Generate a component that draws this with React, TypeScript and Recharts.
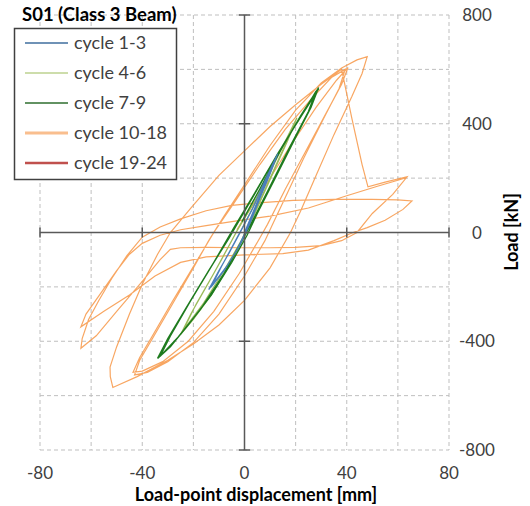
import { LineChart, Line, XAxis, YAxis, CartesianGrid, ReferenceLine } from 'recharts'

type Pt = [number, number]

// axis ticks and grid steps
const xTicks = [-80, -40, 0, 40, 80]
const yTicks = [-800, -400, 0, 400, 800]
const xGrid = [-80, -60, -40, -20, 0, 20, 40, 60, 80]
const yGrid = [-800, -600, -400, -200, 0, 200, 400, 600, 800]

// displacement [mm], load [kN]
const cycles1to3: Pt[] = [
  [0, 0], [4, 90], [8, 180], [13, 290], [10, 215], [6, 125], [2, 30], [-2, -50], [-7, -125], [-14, -210],
  [-10, -140], [-6, -75], [-2, -5], [3, 85], [8, 190], [12.5, 280], [9, 200], [5, 110], [1, 15], [-3, -65],
  [-8, -140], [-13, -200], [-9, -125], [-5, -55], [-1, 15],
]

const cycles4to6: Pt[] = [
  [-1, 15], [6, 140], [13, 280], [20.5, 422], [17, 340], [11, 215], [5, 90], [0, -15], [-6, -120], [-13, -230],
  [-20, -320], [-25, -375], [-21, -300], [-15, -200], [-9, -100], [-3, 5], [4, 115], [12, 265], [20, 410],
  [16, 325], [10, 200], [4, 75], [-1, -25], [-8, -140], [-16, -260], [-24, -360], [-19, -265], [-12, -150],
  [-5, -30], [-1, 40],
]

const cycles7to9: Pt[] = [
  [-1, 40], [6, 160], [14, 300], [22, 430], [29, 533], [26, 460], [20, 350], [12, 200], [5, 70], [1, -10],
  [-5, -110], [-13, -230], [-22, -340], [-29, -420], [-34, -463], [-30, -390], [-23, -280], [-14, -140],
  [-6, -20], [-2, 45], [6, 175], [15, 320], [23, 440], [28, 520], [25, 445], [18, 320], [10, 170], [3, 40],
  [-1, -30], [-8, -150], [-17, -280], [-26, -385], [-33, -455], [-29, -380], [-21, -250], [-12, -110],
  [-4, 20], [4, 145], [13, 290], [22, 425], [29, 528],
]

const cycles10to18: Pt[] = [
  [-3, 10], [8, 170], [18, 320], [28, 460], [36, 560], [40.5, 607],
  [38, 545], [32, 440], [24, 300], [16, 160], [9, 30], [6, -20], [-2, -150], [-12, -290], [-22, -400], [-32, -475], [-40, -510], [-43.6, -514],
  [-41, -460], [-36, -380], [-28, -250], [-19, -110], [-12, 0], [-4, 110], [6, 250], [16, 380], [26, 490], [34, 570], [39.4, 600],
  [37, 530], [31, 420], [23, 270], [16, 130], [11, 30], [8, -30], [0, -160], [-10, -300], [-20, -405], [-30, -475], [-38, -515], [-43, -524],
  [-41, -470], [-36, -390], [-28, -260], [-20, -130], [-14, -30], [-8, 60], [0, 175], [10, 320], [20, 450], [30, 550], [38, 605], [44, 635], [48, 647],
  [46, 585], [42, 500], [35, 360], [28, 210], [22, 80], [18, 0], [10, -130], [0, -250], [-10, -340], [-20, -410], [-30, -470], [-42, -530], [-51.5, -570],
  [-52.5, -530], [-52.6, -495], [-50, -420], [-45, -300], [-40, -190], [-34, -80], [-29, 0], [-21, 90], [-10, 210], [0, 300], [10, 390], [20, 470], [30, 545], [38, 600],
  [42, 420], [46, 250], [48.3, 168], [55, 185], [63.6, 205],
  [58, 140], [50, 70], [44, 0], [38, -30], [30, -48], [20, -55], [10, -56], [0, -56], [-15, -55], [-25, -56], [-29, -62], [-33, -100], [-40, -180], [-50, -290], [-58, -380], [-64, -426],
  [-63.5, -390], [-61, -320], [-57, -250], [-52, -170], [-46, -85], [-40, -17], [-33, 20], [-25, 50], [-15, 80], [-5, 100], [7, 110], [19, 118], [35, 122], [50, 122], [60, 120], [65.5, 116],
  [62, 85], [55, 45], [48, 18], [42.5, 0], [35, -30], [25, -65], [15, -78], [0, -82], [-15, -90], [-25, -110], [-35, -160], [-45, -230], [-55, -290], [-64, -347],
  [-62, -300], [-56, -220], [-50, -140], [-45, -80], [-40, -40], [-33, -10], [-25, 10], [-15, 25], [-5, 40], [10, 60], [25, 90], [40, 135], [52, 170], [60, 192], [63.6, 203],
]

// not visible in the plot, only in the legend
const cycles19to24: Pt[] = []

const toRows = (pts: Pt[]) => pts.map(([x, y]) => ({ x, y }))

const series = [
  { name: 'cycle 1-3', pts: cycles1to3, color: '#4A7EBB', width: 1.2, legendWidth: 1.5, legendColor: '#3F6E9E' },
  { name: 'cycle 4-6', pts: cycles4to6, color: '#9BBB59', width: 1.2, legendWidth: 1.2, legendColor: '#9BBB59' },
  { name: 'cycle 7-9', pts: cycles7to9, color: '#1E7B1E', width: 1.4, legendWidth: 1.5, legendColor: '#2E6E2E' },
  { name: 'cycle 10-18', pts: cycles10to18, color: '#F79646', width: 1.2, legendWidth: 3, legendColor: '#F9BE8E' },
  { name: 'cycle 19-24', pts: cycles19to24, color: '#C0504D', width: 1.2, legendWidth: 2.5, legendColor: '#C0504D' },
]

// drawing order: orange underneath, blue on top
const drawOrder = [3, 4, 1, 2, 0]

const font = 'Lato, "Open Sans", sans-serif'
const axisColor = '#595959'

const XTick = ({ x, y, payload }: any) => (
  <text x={x} y={y + 29} textAnchor="middle" fontFamily={font} fontSize={17} fill="#404040">
    {payload.value}
  </text>
)

const YTick = ({ x, y, payload }: any) => (
  <text x={x + 28} y={y + 6} textAnchor="middle" fontFamily={font} fontSize={17} fill="#404040">
    {payload.value}
  </text>
)

export default function App() {
  return (
    <div style={{ position: 'absolute', left: 0, top: 0, width: 530, height: 506, background: '#fff' }}>
      <LineChart width={530} height={506} margin={{ top: 15, right: 41, bottom: 26, left: 40 }}>
        <CartesianGrid
          stroke="#BFBFBF"
          strokeDasharray="4 3"
          verticalValues={xGrid}
          horizontalValues={yGrid}
        />
        <XAxis
          type="number"
          dataKey="x"
          domain={[-80, 80]}
          ticks={xTicks}
          axisLine={false}
          tickLine={false}
          tickSize={0}
          tickMargin={0}
          height={30}
          tick={<XTick />}
          allowDataOverflow
        />
        <YAxis
          type="number"
          dataKey="y"
          orientation="right"
          domain={[-800, 800]}
          ticks={yTicks}
          axisLine={false}
          tickLine={false}
          tickSize={0}
          tickMargin={0}
          width={40}
          tick={<YTick />}
          allowDataOverflow
        />
        {drawOrder.map((i) => {
          const s = series[i]
          return (
            <Line
              key={s.name}
              name={s.name}
              data={toRows(s.pts)}
              dataKey="y"
              type="linear"
              stroke={s.color}
              strokeWidth={s.width}
              strokeOpacity={i === 3 ? 0.85 : 1}
              dot={false}
              activeDot={false}
              isAnimationActive={false}
            />
          )
        })}
        <ReferenceLine x={0} stroke={axisColor} strokeWidth={1.5} />
        <ReferenceLine y={0} stroke={axisColor} strokeWidth={1.5} />
        {xTicks.filter((t) => t !== 0).map((t) => (
          <ReferenceLine
            key={'xt' + t}
            segment={[{ x: t, y: -18 }, { x: t, y: 18 }]}
            stroke={axisColor}
            strokeWidth={1.5}
          />
        ))}
        {yTicks.filter((t) => t !== 0).map((t) => (
          <ReferenceLine
            key={'yt' + t}
            segment={[{ x: -2.2, y: t }, { x: 2.2, y: t }]}
            stroke={axisColor}
            strokeWidth={1.5}
          />
        ))}
      </LineChart>
      <svg
        width={530}
        height={506}
        style={{ position: 'absolute', left: 0, top: 0, pointerEvents: 'none' }}
      >
        <text x={22} y={21} fontFamily={font} fontSize={18.5} fontWeight="bold" fill="#000">
          S01 (Class 3 Beam)
        </text>
        <rect x={14.5} y={28.5} width={162} height={151} fill="#fff" stroke="#404040" strokeWidth={1.5} />
        {series.map((s, i) => (
          <g key={s.name}>
            <line x1={25} x2={68} y1={43 + i * 30} y2={43 + i * 30} stroke={s.legendColor} strokeWidth={s.legendWidth} />
            <text x={74} y={49 + i * 30} fontFamily={font} fontSize={18} fill="#404040">
              {s.name}
            </text>
          </g>
        ))}
        <text x={256} y={501} textAnchor="middle" fontFamily={font} fontSize={18} fontWeight="bold" fill="#000">
          Load-point displacement [mm]
        </text>
        <text
          x={0}
          y={0}
          transform="translate(518 232) rotate(-90)"
          textAnchor="middle"
          fontFamily={font}
          fontSize={18}
          fontWeight="bold"
          fill="#000"
        >
          Load [kN]
        </text>
      </svg>
    </div>
  )
}
